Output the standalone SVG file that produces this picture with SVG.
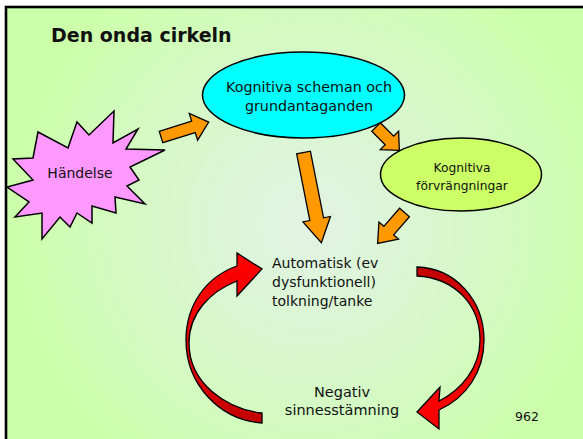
<svg xmlns="http://www.w3.org/2000/svg" width="583" height="439" viewBox="0 0 583 439">
<defs>
<radialGradient id="bg" gradientUnits="userSpaceOnUse" cx="310" cy="225" r="300">
<stop offset="0" stop-color="#e2f3e4"/>
<stop offset="0.55" stop-color="#d6f8c8"/>
<stop offset="1" stop-color="#ccffaa"/>
</radialGradient>
<linearGradient id="redL" gradientUnits="userSpaceOnUse" x1="250" y1="425" x2="250" y2="255">
<stop offset="0" stop-color="#c00000"/>
<stop offset="0.35" stop-color="#e00000"/>
<stop offset="1" stop-color="#ff0000"/>
</linearGradient>
<linearGradient id="redR" gradientUnits="userSpaceOnUse" x1="450" y1="265" x2="450" y2="430">
<stop offset="0" stop-color="#c00000"/>
<stop offset="0.35" stop-color="#e00000"/>
<stop offset="1" stop-color="#ff0000"/>
</linearGradient>
</defs>
<style>
.t{font-family:"DejaVu Sans","Liberation Sans",sans-serif;fill:#111;}
.ora{fill:#ff9900;stroke:#000;stroke-width:1.3;stroke-linejoin:miter;}
.red{stroke:#000;stroke-width:1.3;stroke-linejoin:miter;}
.shape{stroke:#000;stroke-width:1.5;}
</style>
<rect x="0" y="0" width="583" height="439" fill="#ffffff"/>
<rect x="6" y="7" width="600" height="460" fill="url(#bg)" stroke="#000" stroke-width="2.6"/>
<text class="t" x="51" y="42" font-size="19" font-weight="bold">Den onda cirkeln</text>

<g id="connectors">
<polygon class="ora" transform="translate(161,137) rotate(-17.4)" points="0,-6 34,-6 34,-14 50,0 34,14 34,6 0,6"/>
<polygon class="ora" transform="translate(376,127) rotate(45)" points="0,-6 19,-6 19,-13 33,0 19,13 19,6 0,6"/>
<polygon class="ora" transform="translate(303.5,152.5) rotate(78.8)" points="0,-7 68,-7 68,-14 92,0 68,14 68,7 0,7"/>
<polygon class="ora" transform="translate(404.5,212.5) rotate(131)" points="0,-6.5 24,-6.5 24,-13 41,0 24,13 24,6.5 0,6.5"/>
<path class="red" fill="url(#redL)" d="M237,266 C206,277 186,305 186,340 C186,385 220,420 262,423 L262,413 C226,409 189,383 189,343 C189,314 209,292 237,281 L237,296 L262,269 L237,253 Z"/>
<path class="red" fill="url(#redR)" d="M417,267 C455,268 484,300 484,340 C484,372 466,398 439,410 L439,429 L417,412 L440,387 L439,401 C461,390 480,368 480,340 C480,305 455,278 417,276 Z"/>
</g>

<g id="node-handelse">
<polygon class="shape" fill="#ff99ff" points="114,111 113,143 138,129 126,149 165,150 130,167 139,180 127,186 145,204 115,197 116,213 92,206 92,223 77,213 70,227 60,217 42,239 42,213 15,217 29,202 7,187 33,180 13,159 33,158 38,132 68,148 77,122 89,135"/>
<text class="t" x="80" y="178" font-size="14" text-anchor="middle">Händelse</text>
</g>

<g id="node-scheman">
<ellipse class="shape" fill="#00ffff" cx="303.5" cy="95" rx="101" ry="43"/>
<text class="t" x="309" y="92" font-size="14.3" text-anchor="middle">Kognitiva scheman och</text>
<text class="t" x="309" y="111" font-size="14.3" text-anchor="middle">grundantaganden</text>
</g>

<g id="node-forvrangningar">
<ellipse class="shape" fill="#ccff66" cx="461" cy="174.5" rx="80.5" ry="36.5"/>
<text class="t" x="462" y="172" font-size="12.3" text-anchor="middle">Kognitiva</text>
<text class="t" x="462" y="190" font-size="12.3" text-anchor="middle">förvrängningar</text>
</g>

<g id="node-automatisk">
<text class="t" x="272" y="268" font-size="14">Automatisk (ev</text>
<text class="t" x="272" y="287" font-size="14">dysfunktionell)</text>
<text class="t" x="272" y="306" font-size="14">tolkning/tanke</text>
</g>

<g id="node-negativ">
<text class="t" x="342" y="397" font-size="14.5" text-anchor="middle">Negativ</text>
<text class="t" x="342" y="415" font-size="14.5" text-anchor="middle">sinnesstämning</text>
</g>

<text class="t" x="527" y="421" font-size="12.5" text-anchor="middle">962</text>
</svg>
